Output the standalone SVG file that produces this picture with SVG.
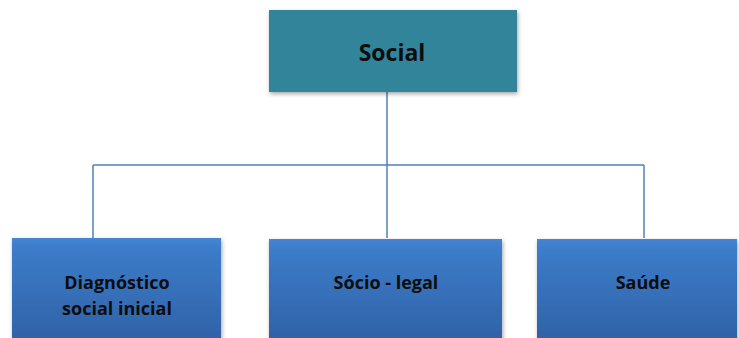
<svg xmlns="http://www.w3.org/2000/svg" width="739" height="338" viewBox="0 0 739 338">
<defs>
<linearGradient id="blue" x1="0" y1="0" x2="0" y2="1">
<stop offset="0" stop-color="#4585d3"/>
<stop offset="0.1" stop-color="#3c7cc9"/>
<stop offset="1" stop-color="#2f61a6"/>
</linearGradient>
<filter id="sh" x="-10%" y="-10%" width="130%" height="130%">
<feDropShadow dx="1" dy="2" stdDeviation="2" flood-color="#000" flood-opacity="0.35"/>
</filter>
<style>
.lbl{font-family:"Open Sans","Liberation Sans",sans-serif;font-weight:bold;fill:#0d0d0d;text-anchor:middle}
.conn{stroke:#4f81bd;stroke-width:1.5;fill:none}
</style>
</defs>
<rect width="739" height="338" fill="#ffffff"/>
<g id="connectors">
<path class="conn" d="M387 92 V165 M93 165 H644 M93 165 V238 M387 165 V238 M644 165 V238"/>
</g>
<g id="social">
<rect x="269" y="10" width="248" height="82" fill="#31849b" filter="url(#sh)"/>
<text class="lbl" x="392" y="61" font-size="23">Social</text>
</g>
<g id="diagnostico">
<rect x="12" y="238" width="209" height="105" fill="url(#blue)" filter="url(#sh)"/>
<text class="lbl" x="117" y="289" font-size="18">Diagnóstico</text>
<text class="lbl" x="117" y="315" font-size="18">social inicial</text>
</g>
<g id="sociolegal">
<rect x="269" y="239" width="233" height="104" fill="url(#blue)" filter="url(#sh)"/>
<text class="lbl" x="386" y="289" font-size="18">Sócio - legal</text>
</g>
<g id="saude">
<rect x="537" y="239" width="200" height="104" fill="url(#blue)" filter="url(#sh)"/>
<text class="lbl" x="643" y="289" font-size="18">Saúde</text>
</g>
</svg>
